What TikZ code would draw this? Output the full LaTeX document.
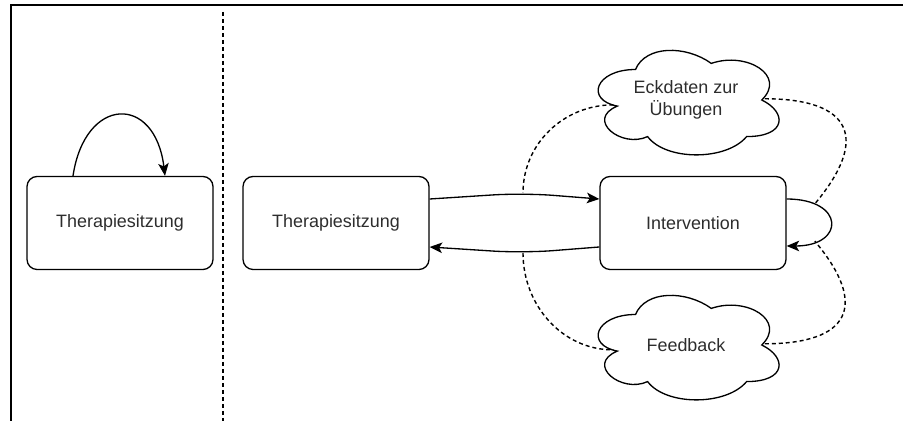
\documentclass[tikz,border=0pt]{standalone}
\usepackage{fontspec}
\setmainfont{Liberation Sans}
\usetikzlibrary{arrows.meta}
\definecolor{txtgrau}{RGB}{45,45,45}

\newcommand{\wolke}[1]{%
  \begin{scope}[shift={(#1.north west)}, x=4.04cm, y=-2.44cm]
    \draw[line width=0.75pt] (0.25,0.25) .. controls (0.05,0.25) and (0,0.5) .. (0.16,0.55)
      .. controls (0,0.66) and (0.18,0.9) .. (0.31,0.8)
      .. controls (0.4,1) and (0.7,1) .. (0.8,0.8)
      .. controls (1,0.8) and (1,0.6) .. (0.875,0.5)
      .. controls (1,0.3) and (0.8,0.1) .. (0.625,0.2)
      .. controls (0.5,0.05) and (0.3,0.05) .. cycle;
    \coordinate (#1-l) at (0.14,0.54);
    \coordinate (#1-r) at (0.89,0.49);
  \end{scope}}

\begin{document}
\begin{tikzpicture}[x=0.02cm, y=-0.02cm,
    kasten/.style={draw, rounded corners=0.2cm, minimum width=3.72cm, minimum height=1.86cm, line width=0.75pt, text=txtgrau, font=\fontsize{10.2}{12.6}\selectfont},
    wolkenknoten/.style={minimum width=4.04cm, minimum height=2.44cm, inner sep=0pt, outer sep=0pt, align=center, text=txtgrau, font=\fontsize{10.2}{12.6}\selectfont},
    pfeil/.style={line width=0.75pt, -{Stealth[length=0.25cm, width=0.21cm, inset=0.06cm]}},
    strich/.style={line width=0.8pt, dash pattern=on 0.08cm off 0.06cm}
  ]
  \useasboundingbox (0,0) rectangle (903,421);
  \draw[line width=1.1pt] (11,421) -- (11,5) -- (903,5);
  \draw[strich] (223,12) -- (223,421);

  \node[kasten] (links) at (120,223) {Therapiesitzung};
  \node[kasten] (mitte) at (336,223) {Therapiesitzung};
  \node[kasten] (interv) at (693,223) {Intervention};
  \node[wolkenknoten] (eck) at (686,100) {Eckdaten zur\\Übungen};
  \node[wolkenknoten] (feed) at (686,345) {Feedback};
  \wolke{eck}
  \wolke{feed}

  \coordinate (ko) at (523,193);
  \coordinate (ku) at (523,253);

  \draw[pfeil] ([xshift=-0.94cm]links.north) .. controls +(12,-80) and +(-10,-82) .. ([xshift=0.9cm]links.north);
  \draw[pfeil, rounded corners=0.6cm] ([yshift=0.48cm]mitte.east) -- (ko) -- ([yshift=0.48cm]interv.west);
  \draw[pfeil, rounded corners=0.6cm] ([yshift=-0.48cm]interv.west) -- (ku) -- ([yshift=-0.48cm]mitte.east);
  \draw[pfeil] ([yshift=0.48cm]interv.east) to[out=0, in=0, looseness=3.2] coordinate[pos=0.2] (lo) coordinate[pos=0.8] (lu) ([yshift=-0.46cm]interv.east);

  \draw[strich] (eck-l) to[out=180, in=90] (ko);
  \draw[strich] (eck-r) to[out=0, in=50, looseness=1.9] (lo);
  \draw[strich] (ku) to[out=-90, in=180] (feed-l);
  \draw[strich] (feed-r) to[out=0, in=-50, looseness=1.9] (lu);
\end{tikzpicture}
\end{document}
